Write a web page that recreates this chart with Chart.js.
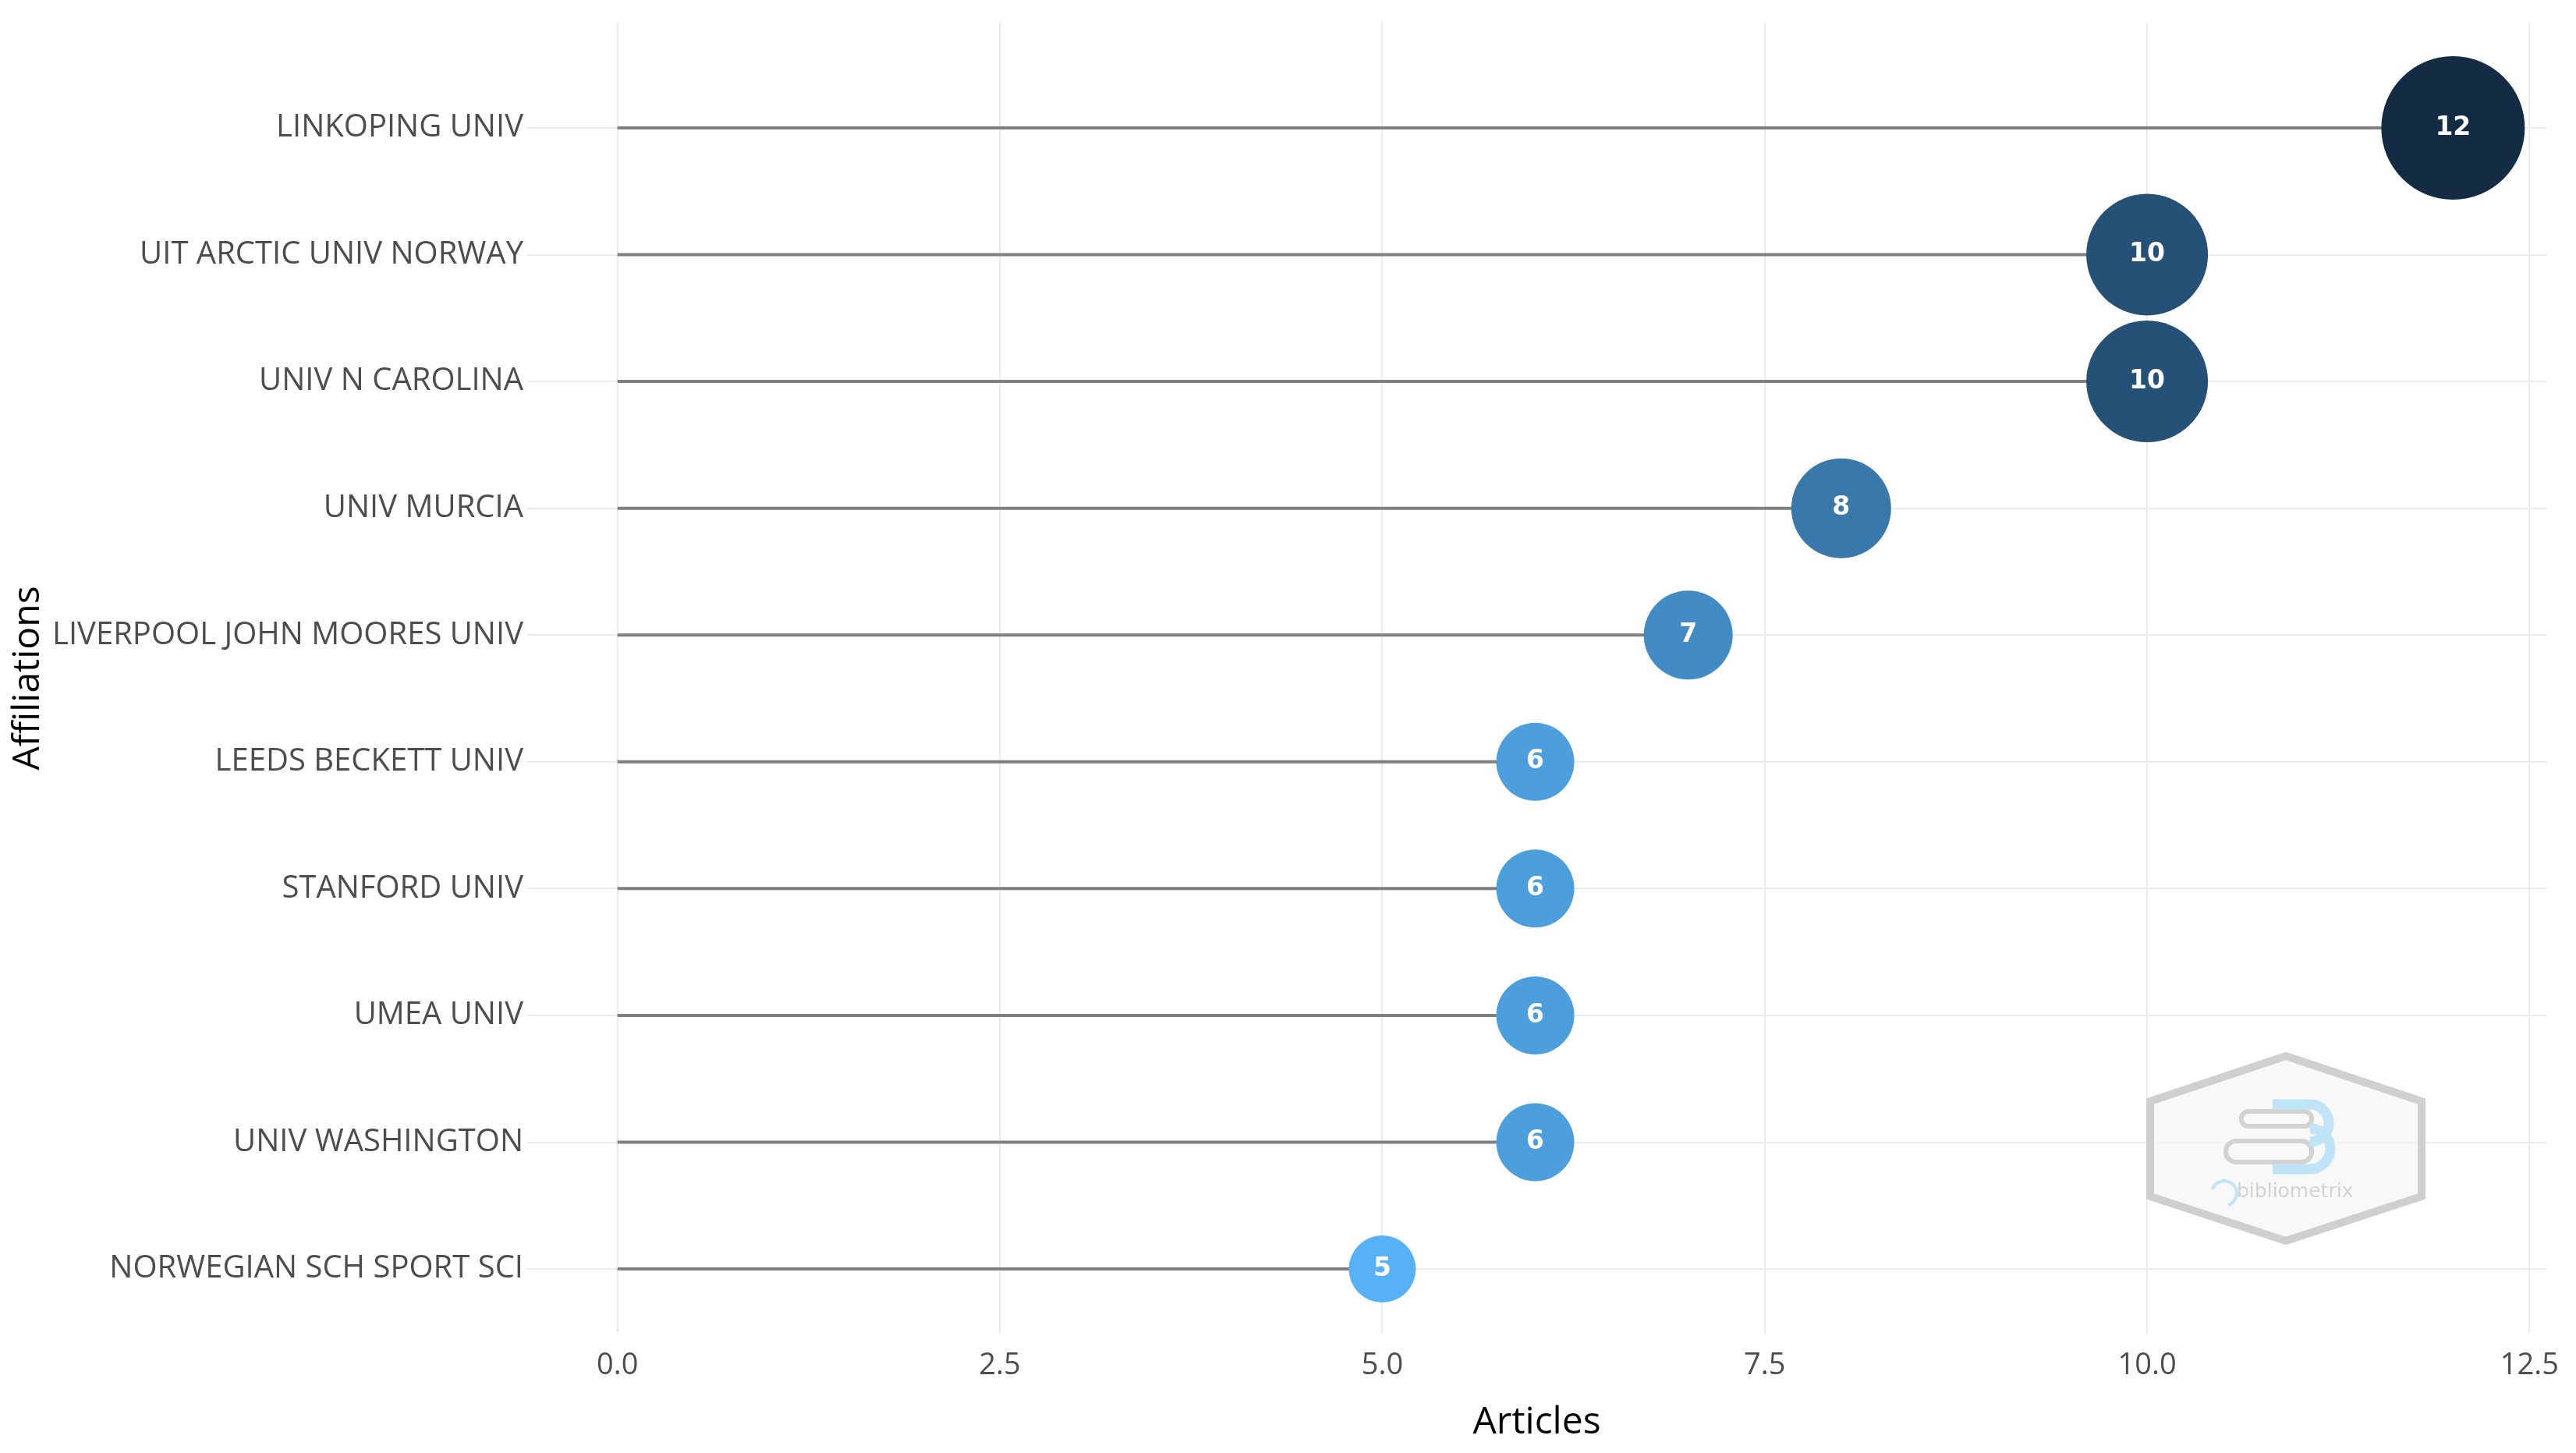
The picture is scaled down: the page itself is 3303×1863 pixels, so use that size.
<!DOCTYPE html>
<html>
<head>
<meta charset="utf-8">
<script src="https://cdn.jsdelivr.net/npm/chart.js@4.4.1/dist/chart.umd.min.js"></script>
<style>
  html, body { margin: 0; padding: 0; background: #fff; }
</style>
</head>
<body>
<canvas id="chart" width="3303" height="1863"></canvas>
<script>
/* ================= DATA ================= */

const affiliations = [
  'LINKOPING UNIV',
  'UIT ARCTIC UNIV NORWAY',
  'UNIV N CAROLINA',
  'UNIV MURCIA',
  'LIVERPOOL JOHN MOORES UNIV',
  'LEEDS BECKETT UNIV',
  'STANFORD UNIV',
  'UMEA UNIV',
  'UNIV WASHINGTON',
  'NORWEGIAN SCH SPORT SCI'
];
const articles = [12, 10, 10, 8, 7, 6, 6, 6, 6, 5];
const xTicks = [0, 2.5, 5, 7.5, 10, 12.5];

/* ================= HELPERS ================= */

// ggplot-like gradient: light blue (low) -> dark navy (high)
const lowCol = [86, 177, 247];
const highCol = [19, 43, 67];
const vMin = Math.min(...articles);
const vMax = Math.max(...articles);

function colorFor(v) {
  const t = (v - vMin) / (vMax - vMin);
  const c = lowCol.map((l, k) => Math.round(l + (highCol[k] - l) * t));
  return `rgb(${c[0]},${c[1]},${c[2]})`;
}

function radiusFor(v) {
  return 7 * v + 8;
}

/* ================= PLUGINS ================= */

// bibliometrix hexagon watermark
const watermark = {
  id: 'watermark',
  beforeDatasetsDraw(chart) {
    const ctx = chart.ctx;
    ctx.save();
    ctx.beginPath();
    ctx.moveTo(2931, 1354);
    ctx.lineTo(3105, 1412);
    ctx.lineTo(3105, 1534);
    ctx.lineTo(2931, 1591);
    ctx.lineTo(2757, 1534);
    ctx.lineTo(2757, 1412);
    ctx.closePath();
    ctx.fillStyle = 'rgba(245,245,245,0.75)';
    ctx.fill();
    ctx.lineWidth = 10;
    ctx.strokeStyle = '#cfcfcf';
    ctx.stroke();

    // books
    ctx.lineWidth = 6;
    ctx.strokeStyle = '#d2d2d2';
    ctx.beginPath();
    ctx.roundRect(2874, 1425, 90, 19, 9);
    ctx.stroke();
    ctx.beginPath();
    ctx.roundRect(2854, 1463, 110, 27, 13);
    ctx.stroke();

    // blue "3"
    ctx.strokeStyle = '#bfe3f7';
    ctx.lineWidth = 13;
    ctx.beginPath();
    ctx.moveTo(2914, 1416);
    ctx.lineTo(2962, 1416);
    ctx.arc(2962, 1440, 24, -Math.PI / 2, Math.PI / 2);
    ctx.stroke();
    ctx.beginPath();
    ctx.arc(2962, 1473, 26, -Math.PI / 2, Math.PI / 2);
    ctx.lineTo(2914, 1499);
    ctx.stroke();

    // swirl + text
    ctx.lineWidth = 4;
    ctx.beginPath();
    ctx.arc(2852, 1530, 16, Math.PI * 1.1, Math.PI * 0.4);
    ctx.stroke();
    ctx.fillStyle = '#d3d3d3';
    ctx.font = '25px "DejaVu Sans"';
    ctx.textAlign = 'left';
    ctx.textBaseline = 'middle';
    ctx.fillText('bibliometrix', 2868, 1528);
    ctx.restore();
  }
};

// value labels inside bubbles
const valueLabels = {
  id: 'valueLabels',
  afterDatasetsDraw(chart) {
    const ctx = chart.ctx;
    const meta = chart.getDatasetMeta(chart.data.datasets.length - 1);
    ctx.save();
    ctx.fillStyle = '#ffffff';
    ctx.font = 'bold 33px "DejaVu Sans"';
    ctx.textAlign = 'center';
    ctx.textBaseline = 'middle';
    meta.data.forEach((el, i) => {
      ctx.fillText(String(articles[i]), el.x, el.y);
    });
    ctx.restore();
  }
};

/* ================= CHART ================= */

const stems = affiliations.map((a, i) => ({
  type: 'line',
  label: a,
  data: [{ x: 0, y: i }, { x: articles[i], y: i }],
  borderColor: '#7f7f7f',
  borderWidth: 4,
  pointRadius: 0,
  clip: false,
  order: 2
}));

const bubbles = {
  type: 'scatter',
  label: 'Articles',
  data: articles.map((v, i) => ({ x: v, y: i })),
  backgroundColor: ctx => colorFor(ctx.raw.x),
  pointRadius: ctx => radiusFor(ctx.raw.x),
  pointHoverRadius: ctx => radiusFor(ctx.raw.x),
  borderWidth: 0,
  clip: false,
  order: 1
};

new Chart(document.getElementById('chart'), {
  type: 'scatter',
  data: { datasets: [...stems, bubbles] },
  options: {
    responsive: false,
    devicePixelRatio: 1,
    animation: false,
    layout: { autoPadding: false, padding: { top: 21, right: 38, left: 0, bottom: 0 } },
    plugins: {
      legend: { display: false },
      tooltip: { enabled: false }
    },
    scales: {
      x: {
        type: 'linear',
        min: -0.59,
        max: 12.61,
        afterBuildTicks: s => { s.ticks = xTicks.map(v => ({ value: v })); },
        afterFit: s => { s.height = 153; },
        ticks: {
          callback: v => Number(v).toFixed(1),
          color: '#4d4d4d',
          font: { family: 'Open Sans', size: 38 },
          padding: 18,
          maxRotation: 0
        },
        grid: { color: '#ebebeb', lineWidth: 2, drawTicks: false },
        border: { display: false },
        title: {
          display: true,
          text: 'Articles',
          color: '#000',
          font: { family: 'Open Sans', size: 48 },
          padding: { top: 10, bottom: 10 }
        }
      },
      y: {
        type: 'linear',
        reverse: true,
        min: -0.83,
        max: 9.51,
        afterBuildTicks: s => { s.ticks = affiliations.map((_, i) => ({ value: i })); },
        afterFit: s => { s.width = 676; },
        ticks: {
          callback: v => affiliations[v],
          color: '#4d4d4d',
          font: { family: 'Open Sans', size: 40 },
          padding: 5
        },
        grid: { color: '#ebebeb', lineWidth: 2, drawTicks: false },
        border: { display: false },
        title: {
          display: true,
          text: 'Affiliations',
          color: '#000',
          font: { family: 'Open Sans', size: 48 },
          padding: { top: 8, bottom: 4 }
        }
      }
    }
  },
  plugins: [watermark, valueLabels]
});
</script>
</body>
</html>
